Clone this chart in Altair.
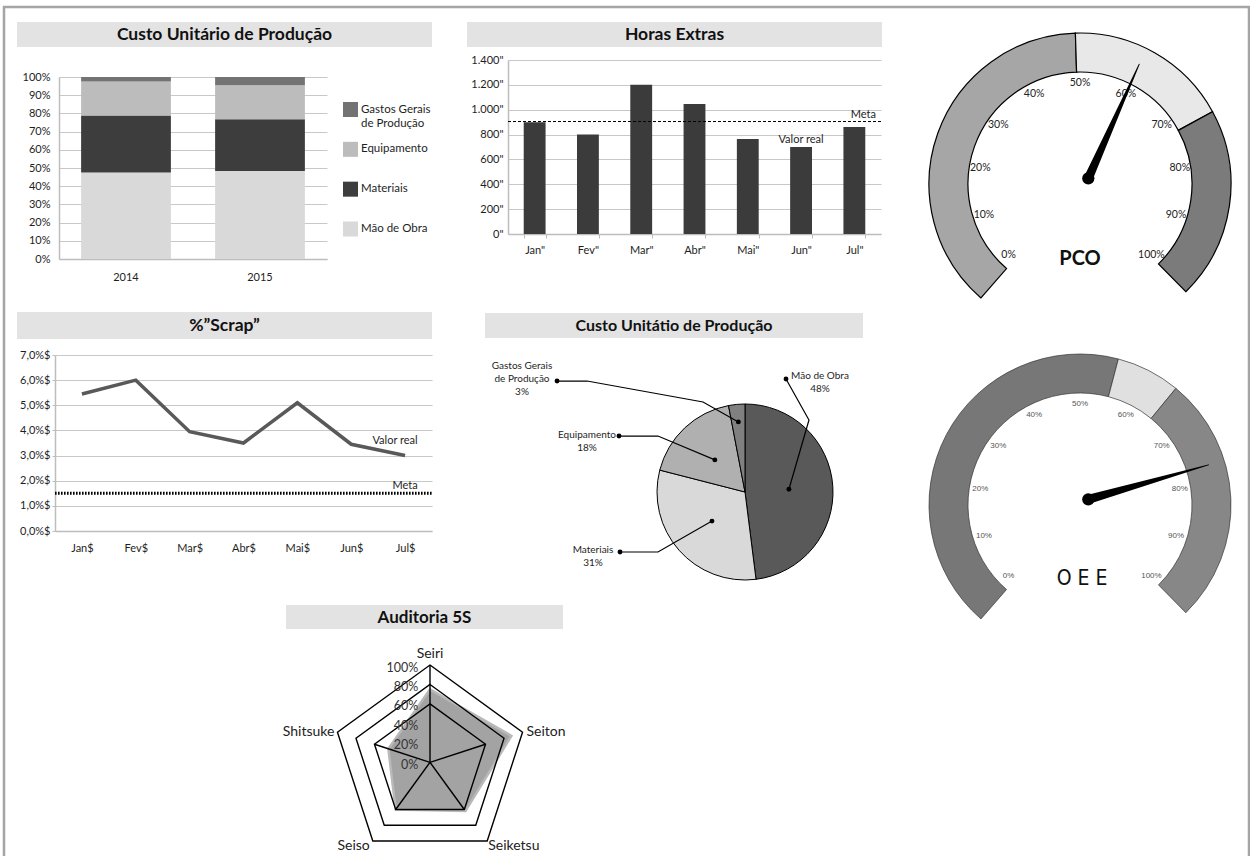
import altair as alt
import numpy as np
import pandas as pd

W, H = 1250, 856
FONT = "Lato"
TXT = "#1e1e1e"

# ---------------- data ----------------
anos = ["2014", "2015"]
componentes = ["Mão de Obra", "Materiais", "Equipamento", "Gastos Gerais de Produção"]
custo_2014 = [47.5, 31.3, 18.7, 2.5]
custo_2015 = [48.3, 28.5, 18.7, 4.5]
ordem_legenda = ["Gastos Gerais de Produção", "Equipamento", "Materiais", "Mão de Obra"]
rotulos_legenda = ["Gastos Gerais\nde Produção", "Equipamento", "Materiais", "Mão de Obra"]

meses = ["Jan", "Fev", "Mar", "Abr", "Mai", "Jun", "Jul"]
horas_extras = [900, 800, 1200, 1045, 765, 700, 860]
meta_horas = 905

scrap_pct = [5.45, 6.0, 3.95, 3.5, 5.1, 3.45, 3.0]
meta_scrap = 1.5

pizza_cat = ["Mão de Obra", "Materiais", "Equipamento", "Gastos Gerais de Produção"]
pizza_nome = ["Mão de Obra", "Materiais", "Equipamento", "Gastos Gerais\nde Produção"]
pizza_pct = [48, 31, 18, 3]

pco_limites = [0, 50, 73, 100]
pco_valor = 59.4
oee_limites = [0, 56, 65, 100]
oee_valor = 77.6
escala_gauge = [0, 10, 20, 30, 40, 50, 60, 70, 80, 90, 100]

sensos = ["Seiri", "Seiton", "Seiketsu", "Seiso", "Shitsuke"]
auditoria = [75, 88, 62, 60, 45]
aneis = [60, 80, 100]
escala_radar = [0, 20, 40, 60, 80, 100]

one = pd.DataFrame({"k": [0]})


def faixa_titulo(x0, x1, y0, y1, texto, tamanho):
    d = pd.DataFrame({"t": [texto]})
    r = alt.Chart(d).mark_rect(color="#e3e3e3").encode(
        x=alt.value(x0), x2=alt.value(x1), y=alt.value(y0), y2=alt.value(y1))
    t = alt.Chart(d).mark_text(font=FONT, fontWeight="bold", fontSize=tamanho, color="#111",
                               baseline="middle").encode(
        x=alt.value((x0 + x1) / 2), y=alt.value((y0 + y1) / 2 + 0.5), text="t:N")
    return alt.layer(r, t)


def yaxis(xpx, values, expr, pad, ticks=False):
    return alt.Axis(orient="left", offset=-xpx, values=values, labelExpr=expr, grid=True,
                    gridColor="#c8c8c8", gridWidth=1.2, domain=True, domainColor="#bdbdbd",
                    domainWidth=1.5, ticks=ticks, tickColor="#bdbdbd", tickSize=3,
                    labelPadding=pad, title=None, labelFont=FONT, labelFontSize=11,
                    labelColor=TXT)


def xaxis(ypx, pad, suffix="", ticks=False):
    kw = dict(tickBand="extent", tickSize=4, tickColor="#bdbdbd") if ticks else {}
    expr = "datum.label ? datum.label + '%s' : ''" % suffix
    return alt.Axis(orient="bottom", offset=ypx - H, labelPadding=pad, labelExpr=expr,
                    ticks=ticks, domainColor="#bdbdbd", domainWidth=1.5, grid=False,
                    labelAngle=0, title=None, labelFont=FONT, labelFontSize=11,
                    labelColor=TXT, **kw)


# ---------------- border ----------------
borda = alt.Chart(one).mark_rect(fillOpacity=0, stroke="#a5a5a5", strokeWidth=2.5).encode(
    x=alt.value(4), x2=alt.value(1249), y=alt.value(7), y2=alt.value(900))

# ---------------- panel 1: stacked bars ----------------
linhas = []
for ano, vals in zip(anos, [custo_2014, custo_2015]):
    acc = 0.0
    for comp, v in zip(componentes, vals):
        linhas.append({"ano": ano, "comp": comp, "ini": acc, "fim": acc + v})
        acc += v
df1 = pd.DataFrame(linhas)
C1 = alt.Scale(domain=componentes, range=["#d9d9d9", "#3d3d3d", "#bcbcbc", "#737373"])
X1 = alt.Scale(domain=anos, range=[59, 327], paddingInner=0.33, paddingOuter=0.165)
Y1 = alt.Scale(domain=[0, 100], range=[259, 77])
barras1 = alt.Chart(df1).mark_bar().encode(
    x=alt.X("ano:N", scale=X1, axis=xaxis(259, 12)),
    y=alt.Y("ini:Q", scale=Y1, axis=yaxis(59, list(range(0, 101, 10)), "datum.value + '%'", 9)),
    y2="fim:Q",
    color=alt.Color("comp:N", scale=C1, legend=None),
)
df_leg = pd.DataFrame({"comp": ordem_legenda, "rotulo": rotulos_legenda})
YL = alt.Scale(type="point", domain=ordem_legenda, range=[109.5, 229], padding=0)
leg_sq = alt.Chart(df_leg).mark_square(size=225, opacity=1).encode(
    x=alt.value(350.5), y=alt.Y("comp:N", scale=YL, axis=None),
    color=alt.Color("comp:N", scale=C1, legend=None))
leg_tx = alt.Chart(df_leg).mark_text(align="left", baseline="middle", lineBreak="\n", font=FONT,
                                     fontSize=11.5, lineHeight=14, color=TXT).encode(
    x=alt.value(361), y=alt.Y("comp:N", scale=YL, axis=None), text="rotulo:N")

# ---------------- panel 2: horas extras ----------------
df2 = pd.DataFrame({"mes": meses, "horas": horas_extras})
X2 = alt.Scale(domain=meses, range=[508, 881], paddingInner=0.59, paddingOuter=0.295)
Y2 = alt.Scale(domain=[0, 1400], range=[234, 60])
barras2 = alt.Chart(df2).mark_bar(color="#3b3b3b").encode(
    x=alt.X("mes:N", sort=meses, scale=X2, axis=xaxis(234, 6, '"', ticks=True)),
    y=alt.Y("horas:Q", scale=Y2,
            axis=yaxis(508, list(range(0, 1401, 200)),
                       "replace(format(datum.value, ','), ',', '.') + '\"'", 5)),
)
df_meta2 = pd.DataFrame({"meta": [meta_horas]})
meta2 = alt.Chart(df_meta2).mark_rule(color="black", strokeDash=[3, 2], strokeWidth=1).encode(
    y=alt.Y("meta:Q", scale=Y2, axis=None), x=alt.value(508), x2=alt.value(881))
meta2_tx = alt.Chart(df_meta2).mark_text(text="Meta", align="right", baseline="bottom", dy=-1.5,
                                         font=FONT, fontSize=11, color=TXT).encode(
    y=alt.Y("meta:Q", scale=Y2, axis=None), x=alt.value(876))
real2_tx = alt.Chart(df2).transform_filter(alt.datum.mes == "Jun").mark_text(
    text="Valor real", baseline="bottom", dy=-2, font=FONT, fontSize=11, color=TXT).encode(
    x=alt.X("mes:N", sort=meses, scale=X2, axis=None), y=alt.Y("horas:Q", scale=Y2, axis=None))

# ---------------- panel 4: scrap ----------------
df4 = pd.DataFrame({"mes": meses, "scrap": scrap_pct})
X4 = alt.Scale(type="point", domain=meses, range=[55, 432], padding=0.5)
Y4 = alt.Scale(domain=[0, 7], range=[531, 355])
linha4 = alt.Chart(df4).mark_line(color="#595959", strokeWidth=3.5).encode(
    x=alt.X("mes:N", sort=meses, scale=X4, axis=xaxis(531, 11, "$")),
    y=alt.Y("scrap:Q", scale=Y4,
            axis=yaxis(55, list(range(0, 8)), "replace(format(datum.value, '.1f'), '.', ',') + '%$'",
                       2, ticks=True)),
)
df_meta4 = pd.DataFrame({"meta": [meta_scrap], "mes": ["Jul"]})
meta4 = alt.Chart(df_meta4).mark_rule(color="black", strokeDash=[1.6, 1.4], strokeWidth=3).encode(
    y=alt.Y("meta:Q", scale=Y4, axis=None), x=alt.value(55), x2=alt.value(432))
meta4_tx = alt.Chart(df_meta4).mark_text(text="Meta", baseline="bottom", dy=-2, font=FONT,
                                         fontSize=11, color=TXT).encode(
    x=alt.X("mes:N", scale=X4, axis=None), y=alt.Y("meta:Q", scale=Y4, axis=None))
real4_tx = alt.Chart(df4).transform_filter(alt.datum.mes == "Jul").mark_text(
    text="Valor real", baseline="bottom", dy=-9.5, dx=-10, font=FONT, fontSize=11, color=TXT).encode(
    x=alt.X("mes:N", scale=X4, axis=None), y=alt.Y("scrap:Q", scale=Y4, axis=None))

# ---------------- gauges ----------------
TH0, TH1 = np.radians(-139.0), np.radians(135.5)


def gauge(cx, cy, limites, valor, cores, contorno, lw, fonte, tam, cor_txt):
    G = 165
    XS = alt.Scale(domain=[-G, G], range=[cx - G, cx + G])
    YS = alt.Scale(domain=[-G, G], range=[cy + G, cy - G])
    TS = alt.Scale(domain=[0, 100], range=[float(TH0), float(TH1)])
    nomes = ["baixo", "medio", "alto"]
    seg = pd.DataFrame({"faixa": nomes, "ini": limites[:-1], "fim": limites[1:],
                        "cx": 0.0, "cy": 0.0})
    arcos = alt.Chart(seg).mark_arc(radius=151, radius2=112, stroke=contorno, strokeWidth=lw).encode(
        theta=alt.Theta("ini:Q", scale=TS, stack=False), theta2="fim:Q",
        x=alt.X("cx:Q", scale=XS, axis=None, stack=False),
        y=alt.Y("cy:Q", scale=YS, axis=None, stack=False),
        color=alt.Color("faixa:N", scale=alt.Scale(domain=nomes, range=cores), legend=None))
    ang = np.radians(-135 + 2.7 * np.array(escala_gauge, dtype=float))
    esc = pd.DataFrame({"v": escala_gauge, "x": 101 * np.sin(ang), "y": 101 * np.cos(ang)})
    esc["txt"] = esc["v"].astype(str) + "%"
    rot = alt.Chart(esc).mark_text(font=fonte, fontSize=tam, color=cor_txt).encode(
        x=alt.X("x:Q", scale=XS, axis=None), y=alt.Y("y:Q", scale=YS, axis=None), text="txt:N")
    a = TH0 + (TH1 - TH0) * valor / 100.0
    px, py = 8.3, 5.7
    ag = pd.DataFrame({"x": [px, px + 125 * np.sin(a)], "y": [py, py + 125 * np.cos(a)],
                       "w": [9.0, 1.0], "o": [0, 1]})
    agulha = alt.Chart(ag).mark_trail(color="black").encode(
        x=alt.X("x:Q", scale=XS, axis=None), y=alt.Y("y:Q", scale=YS, axis=None),
        size=alt.Size("w:Q", scale=None, legend=None), order="o:Q")
    piv = alt.Chart(ag.iloc[:1]).mark_circle(size=150, color="black", opacity=1).encode(
        x=alt.X("x:Q", scale=XS, axis=None), y=alt.Y("y:Q", scale=YS, axis=None))
    return alt.layer(arcos, rot, agulha, piv)


pco = gauge(1080, 184, pco_limites, pco_valor, ["#a6a6a6", "#e8e8e8", "#7b7b7b"], "black", 1.2,
            FONT, 10.5, "#222")
pco_t = alt.Chart(one).mark_text(text="PCO", font=FONT, fontWeight="bold", fontSize=20,
                                 color="#111", baseline="middle").encode(
    x=alt.value(1080), y=alt.value(259))
oee = gauge(1080, 505, oee_limites, oee_valor, ["#777777", "#e0e0e0", "#878787"], "#333", 0.7,
            "Liberation Sans", 8, "#555")
oee_t = alt.Chart(one).mark_text(text="O E E", font="Liberation Sans Narrow, DejaVu Sans Condensed, Roboto",
                                 fontSize=21, color="#111", baseline="middle").encode(
    x=alt.value(1082), y=alt.value(579))

# ---------------- pie ----------------
PR = 0.88
XP = alt.Scale(domain=[-100, 100], range=[745 - 100 * PR, 745 + 100 * PR])
YP = alt.Scale(domain=[-100, 100], range=[492 + 100 * PR, 492 - 100 * PR])
TP = alt.Scale(domain=[0, 100], range=[0, float(2 * np.pi)])
ini = np.concatenate([[0], np.cumsum(pizza_pct)[:-1]])
dfp = pd.DataFrame({"cat": pizza_cat, "pct": pizza_pct, "ini": ini, "fim": ini + np.array(pizza_pct),
                    "cx": 0.0, "cy": 0.0})
dfp["meio"] = (dfp["ini"] + dfp["fim"]) / 2
dfp["rot"] = [f"{n}\n{p}%" for n, p in zip(pizza_nome, pizza_pct)]
CP = alt.Scale(domain=pizza_cat, range=["#595959", "#d9d9d9", "#b0b0b0", "#808080"])
fatias = alt.Chart(dfp).mark_arc(radius=88, stroke="black", strokeWidth=1).encode(
    theta=alt.Theta("ini:Q", scale=TP, stack=False), theta2="fim:Q",
    x=alt.X("cx:Q", scale=XP, axis=None, stack=False),
    y=alt.Y("cy:Q", scale=YP, axis=None, stack=False),
    color=alt.Color("cat:N", scale=CP, legend=None))
# label layout (pie units): text anchor, leader elbows, radius where the leader ends
layout_rot = {
    "Mão de Obra": ((85.2, 137.5), [(46.6, 128.4), (72.7, 81.8)], 50),
    "Materiais": ((-172.7, -60.2), [(-142.0, -68.2), (-98.9, -68.2)], 50),
    "Equipamento": ((-179.5, 70.5), [(-143.2, 63.6), (-98.9, 63.6)], 50),
    "Gastos Gerais de Produção": ((-253.4, 148.9), [(-213.6, 126.1), (-179.5, 126.1), (-47.7, 102.3)], 80),
}
lin, pts, txt = [], [], []
for _, r in dfp.iterrows():
    (tx, ty), elbows, rr = layout_rot[r["cat"]]
    a = np.radians(r["meio"] * 3.6)
    caminho = elbows + [(rr * np.sin(a), rr * np.cos(a))]
    for i, (x, y) in enumerate(caminho):
        lin.append({"cat": r["cat"], "o": i, "x": x, "y": y})
    pts.append({"x": caminho[0][0], "y": caminho[0][1]})
    pts.append({"x": caminho[-1][0], "y": caminho[-1][1]})
    txt.append({"x": tx, "y": ty, "rot": r["rot"]})
guias = alt.Chart(pd.DataFrame(lin)).mark_line(color="black", strokeWidth=1.2).encode(
    x=alt.X("x:Q", scale=XP, axis=None), y=alt.Y("y:Q", scale=YP, axis=None),
    detail="cat:N", order="o:Q")
pontos = alt.Chart(pd.DataFrame(pts)).mark_circle(size=24, color="black", opacity=1).encode(
    x=alt.X("x:Q", scale=XP, axis=None), y=alt.Y("y:Q", scale=YP, axis=None))
textos = alt.Chart(pd.DataFrame(txt)).mark_text(baseline="top", lineBreak="\n", lineHeight=13,
                                               font=FONT, fontSize=10, color=TXT).encode(
    x=alt.X("x:Q", scale=XP, axis=None), y=alt.Y("y:Q", scale=YP, axis=None), text="rot:N")
pizza = alt.layer(fatias, guias, pontos, textos)

# ---------------- radar ----------------
RR = 0.973
XR = alt.Scale(domain=[-100, 100], range=[430 - 100 * RR, 430 + 100 * RR])
YR = alt.Scale(domain=[-100, 100], range=[762.3 + 100 * RR, 762.3 - 100 * RR])
angs = np.radians(90 - 72 * np.arange(5))
dados_r = pd.DataFrame({"senso": sensos, "o": range(5),
                        "x": np.array(auditoria) * np.cos(angs), "y": np.array(auditoria) * np.sin(angs)})
area_r = alt.Chart(dados_r).mark_line(interpolate="linear-closed", fill="#a3a3a3", stroke="#b9b9b9",
                                      strokeWidth=2.5).encode(
    x=alt.X("x:Q", scale=XR, axis=None), y=alt.Y("y:Q", scale=YR, axis=None), order="o:Q")
an = []
for lv in aneis:
    for i in range(5):
        an.append({"nivel": lv, "o": i, "x": lv * np.cos(angs[i]), "y": lv * np.sin(angs[i])})
aneis_r = alt.Chart(pd.DataFrame(an)).mark_line(interpolate="linear-closed", color="black",
                                                strokeWidth=1.4).encode(
    x=alt.X("x:Q", scale=XR, axis=None), y=alt.Y("y:Q", scale=YR, axis=None),
    detail="nivel:N", order="o:Q")
raios = []
for i, s in enumerate(sensos):
    lim = 100 if i == 0 else aneis[0]
    raios.append({"senso": s, "o": 0, "x": 0.0, "y": 0.0})
    raios.append({"senso": s, "o": 1, "x": lim * np.cos(angs[i]), "y": lim * np.sin(angs[i])})
raios_r = alt.Chart(pd.DataFrame(raios)).mark_line(color="black", strokeWidth=1.4).encode(
    x=alt.X("x:Q", scale=XR, axis=None), y=alt.Y("y:Q", scale=YR, axis=None),
    detail="senso:N", order="o:Q")
esc_r = pd.DataFrame({"v": escala_radar, "x": [-12.0] * len(escala_radar), "y": escala_radar})
esc_r["txt"] = esc_r["v"].astype(str) + "%"
escala_r = alt.Chart(esc_r).mark_text(align="right", baseline="middle", dy=2.5, font=FONT,
                                      fontSize=12.5, color="#333").encode(
    x=alt.X("x:Q", scale=XR, axis=None), y=alt.Y("y:Q", scale=YR, axis=None), text="txt:N")
cat_r = pd.DataFrame({"senso": sensos, "x": 100 * np.cos(angs), "y": 100 * np.sin(angs)})


def rotulos_radar(nomes, align, dx, dy, baseline):
    d = cat_r[cat_r["senso"].isin(nomes)]
    return alt.Chart(d).mark_text(align=align, baseline=baseline, dx=dx, dy=dy, font=FONT,
                                  fontSize=14, color="#222").encode(
        x=alt.X("x:Q", scale=XR, axis=None), y=alt.Y("y:Q", scale=YR, axis=None), text="senso:N")


rot_c = rotulos_radar(["Seiri"], "center", 0, -11, "middle")
rot_l = rotulos_radar(["Seiton"], "left", 4, 0, "middle")
rot_b1 = rotulos_radar(["Seiketsu"], "left", 1, 5, "middle")
rot_b2 = rotulos_radar(["Seiso"], "right", -3, 5, "middle")
rot_r = rotulos_radar(["Shitsuke"], "right", -3, 0, "middle")
radar = alt.layer(area_r, aneis_r, raios_r, escala_r, rot_c, rot_l, rot_b1, rot_b2, rot_r)

# every leaf is its own layer; all scales carry explicit domains and pixel ranges
chart = alt.layer(
    borda,
    faixa_titulo(17, 432, 22, 47, "Custo Unitário de Produção", 17.5),
    barras1, leg_sq, leg_tx,
    faixa_titulo(467, 882, 22, 47, "Horas Extras", 17.5),
    barras2, meta2, meta2_tx, real2_tx,
    faixa_titulo(17, 432, 312, 339, "%”Scrap”", 17.5),
    meta4, linha4, meta4_tx, real4_tx,
    faixa_titulo(485, 863, 313, 338, "Custo Unitátio de Produção", 16),
    pizza,
    faixa_titulo(286, 563, 605, 629, "Auditoria 5S", 17),
    radar,
    pco, pco_t, oee, oee_t,
).resolve_scale(
    x="independent", y="independent", color="independent", theta="independent", size="independent"
).properties(width=W, height=H, padding=0, autosize="none").configure_view(stroke=None)

chart.save("out.html", embed_options={"renderer": "svg", "actions": False})
